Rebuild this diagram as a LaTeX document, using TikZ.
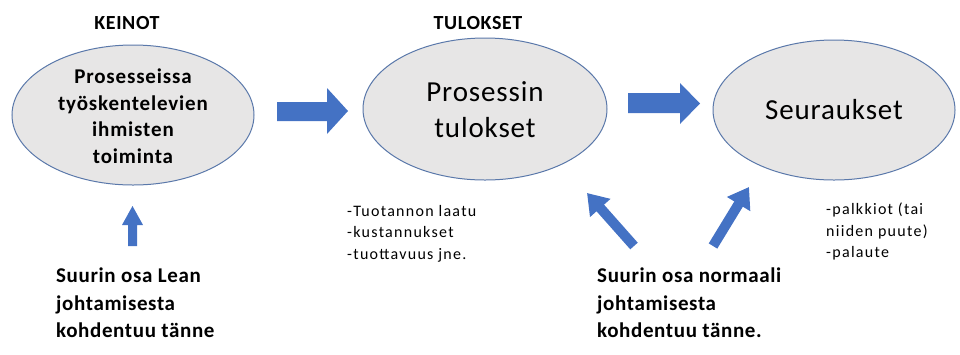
\documentclass[tikz,border=0pt]{standalone}
\usepackage{fontspec}
\setmainfont{Carlito}
\usetikzlibrary{arrows.meta}
\definecolor{ellfill}{HTML}{E7E6E6}
\definecolor{elldraw}{HTML}{5A78AA}
\definecolor{arrblue}{HTML}{4472C4}
\tikzset{
  ell/.style={draw=elldraw, fill=ellfill, line width=1pt},
  blockarrow/.style={fill=arrblue, draw=none},
  diagarrow/.style={draw=arrblue, line width=10pt, -{Triangle[width=26pt,length=20pt]}},
  head/.style={font=\fontsize{20}{22}\selectfont\bfseries\addfontfeature{LetterSpace=3}, anchor=base},
  note/.style={font=\fontsize{16}{21.5}\selectfont\addfontfeature{LetterSpace=8}, align=left, anchor=north west, inner sep=0pt},
  bignote/.style={font=\fontsize{21}{27.5}\selectfont\bfseries\addfontfeature{LetterSpace=3}, align=left, anchor=north west, inner sep=0pt},
}
\begin{document}
\begin{tikzpicture}[x=1pt,y=-1pt]
\useasboundingbox (0,0) rectangle (960,354);
% ellipses
\draw[ell] (133,115) ellipse [x radius=121, y radius=70];
\draw[ell] (485,109) ellipse [x radius=122, y radius=71];
\draw[ell] (834,110) ellipse [x radius=121, y radius=70];
\node[font=\fontsize{21}{26.5}\selectfont\bfseries\addfontfeature{LetterSpace=4}, align=center] (e1) at (133,116) {Prosesseissa\\työskentelevien\\ihmisten\\toiminta};
\node[font=\fontsize{29}{36}\selectfont\addfontfeature{LetterSpace=3}, align=center] (e2) at (485,110) {Prosessin\\tulokset};
\node[font=\fontsize{29}{36}\selectfont\addfontfeature{LetterSpace=3}] (e3) at (834,110) {Seuraukset};
% headings
\node[head] (k) at (127,29) {KEINOT};
\node[head] (t) at (478,29) {TULOKSET};
% block arrows
\fill[blockarrow] (277,102) -- (327,102) -- (327,88) -- (348,111) -- (327,134) -- (327,121) -- (277,121) -- cycle;
\fill[blockarrow] (628,93) -- (680,93) -- (680,83) -- (700,103.5) -- (680,124) -- (680,113) -- (628,113) -- cycle;
\fill[blockarrow] (128,246) -- (128,225) -- (122,225) -- (132.5,206) -- (143,225) -- (137,225) -- (137,246) -- cycle;
% diagonal arrows
\coordinate (d1s) at (634,246);
\coordinate (d1e) at (587,193);
\coordinate (d2s) at (713,246);
\coordinate (d2e) at (749,187);
\draw[diagarrow] (d1s) -- (d1e);
\draw[diagarrow] (d2s) -- (d2e);
% notes
\node[note] (n1) at (347,205) {-Tuotannon laatu\\-kustannukset\\-tuottavuus jne.};
\node[note] (n2) at (826,203) {-palkkiot (tai\\niiden puute)\\-palaute};
\node[bignote] (b1) at (56,268) {Suurin osa Lean\\johtamisesta\\kohdentuu tänne};
\node[bignote] (b2) at (597,268) {Suurin osa normaali\\johtamisesta\\kohdentuu tänne.};
\end{tikzpicture}
\end{document}
